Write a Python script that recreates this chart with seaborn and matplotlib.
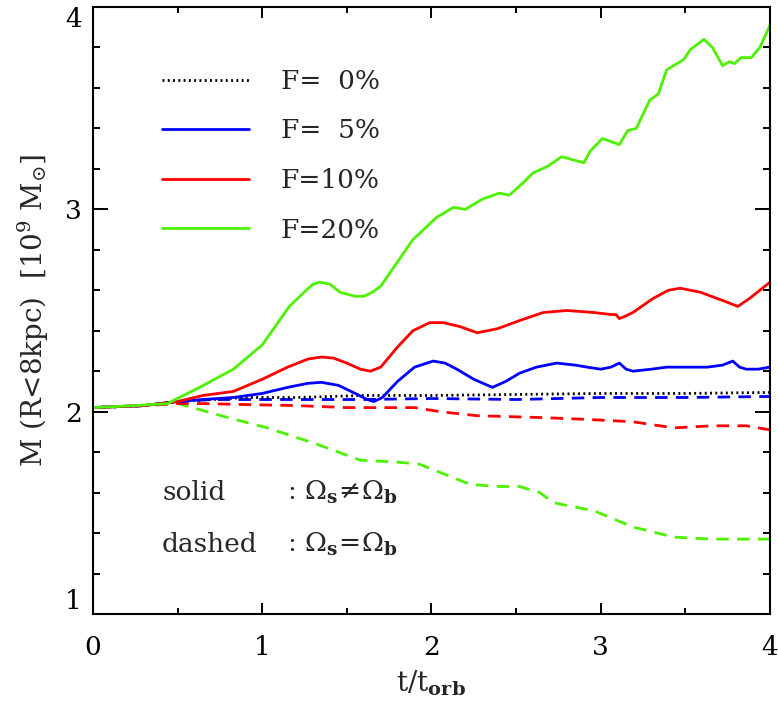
import matplotlib
matplotlib.use("Agg")
import matplotlib.pyplot as plt
import seaborn as sns
import numpy as np
import pandas as pd
from matplotlib.ticker import MultipleLocator, FixedLocator

# ---- data ----
t_f0 = [0, 0.3, 0.5, 0.7, 0.9, 1.2, 1.6, 2.0, 2.5, 3.0, 3.5, 4.0]
m_f0 = [2.02, 2.03, 2.05, 2.06, 2.07, 2.07, 2.08, 2.08, 2.085, 2.09, 2.09, 2.095]

t_f5 = [0, 0.3, 0.5, 0.65, 0.83, 1.0, 1.15, 1.27, 1.35, 1.45, 1.55, 1.62, 1.66, 1.71, 1.8,
        1.9, 2.01, 2.08, 2.15, 2.25, 2.36, 2.44, 2.52, 2.62, 2.74, 2.85, 2.92, 3.0,
        3.06, 3.11, 3.15, 3.19, 3.3, 3.39, 3.5, 3.63, 3.72, 3.78, 3.82, 3.86, 3.93, 4.0]
m_f5 = [2.02, 2.03, 2.05, 2.06, 2.07, 2.09, 2.12, 2.14, 2.145, 2.13, 2.09, 2.06, 2.05, 2.07, 2.15,
        2.22, 2.25, 2.24, 2.21, 2.16, 2.12, 2.15, 2.19, 2.22, 2.24, 2.23, 2.22, 2.21,
        2.22, 2.24, 2.21, 2.20, 2.21, 2.22, 2.22, 2.22, 2.23, 2.25, 2.22, 2.21, 2.21, 2.22]

t_f10 = [0, 0.3, 0.5, 0.65, 0.83, 1.0, 1.15, 1.27, 1.35, 1.42, 1.5, 1.58, 1.64, 1.7, 1.8,
         1.89, 1.99, 2.07, 2.17, 2.27, 2.39, 2.52, 2.66, 2.8, 2.96, 3.06, 3.09, 3.11,
         3.14, 3.19, 3.31, 3.4, 3.47, 3.59, 3.75, 3.81, 3.88, 4.0]
m_f10 = [2.02, 2.03, 2.05, 2.08, 2.10, 2.16, 2.22, 2.26, 2.27, 2.265, 2.24, 2.21, 2.20, 2.22, 2.32,
         2.40, 2.44, 2.44, 2.42, 2.39, 2.41, 2.45, 2.49, 2.50, 2.49, 2.48, 2.48, 2.46,
         2.47, 2.49, 2.56, 2.60, 2.61, 2.59, 2.54, 2.52, 2.56, 2.64]

t_f20 = [0, 0.25, 0.44, 0.63, 0.83, 1.0, 1.16, 1.26, 1.30, 1.34, 1.40, 1.46, 1.55, 1.6,
         1.65, 1.7, 1.89, 2.03,
         2.13, 2.2, 2.3, 2.4, 2.46, 2.54, 2.6, 2.68, 2.77, 2.9, 2.94, 3.01, 3.11, 3.16,
         3.21, 3.29, 3.34, 3.39, 3.49, 3.53, 3.61, 3.66, 3.72, 3.76, 3.79, 3.83, 3.89,
         3.94, 4.0]
m_f20 = [2.02, 2.03, 2.04, 2.12, 2.21, 2.33, 2.52, 2.60, 2.63, 2.64, 2.63, 2.59, 2.57, 2.57,
         2.59, 2.62, 2.85, 2.96,
         3.01, 3.00, 3.05, 3.08, 3.07, 3.13, 3.18, 3.21, 3.26, 3.23, 3.29, 3.35, 3.32, 3.39,
         3.40, 3.54, 3.57, 3.69, 3.74, 3.79, 3.84, 3.80, 3.71, 3.73, 3.72, 3.75, 3.75,
         3.80, 3.91]

t_f5d = [0, 0.3, 0.5, 0.7, 0.9, 1.2, 1.6, 2.0, 2.5, 3.0, 3.5, 4.0]
m_f5d = [2.02, 2.03, 2.05, 2.06, 2.06, 2.06, 2.06, 2.065, 2.06, 2.07, 2.07, 2.075]

t_f10d = [0, 0.3, 0.5, 0.65, 0.9, 1.2, 1.5, 1.81, 1.9, 2.05, 2.27, 2.68, 2.96, 3.19,
          3.43, 3.66, 3.86, 4.0]
m_f10d = [2.02, 2.03, 2.04, 2.04, 2.035, 2.03, 2.02, 2.02, 2.02, 2.00, 1.98, 1.97, 1.96, 1.95,
          1.92, 1.93, 1.93, 1.91]

t_f20d = [0, 0.3, 0.5, 0.63, 0.8, 1.03, 1.32, 1.58, 1.81, 1.93, 2.05, 2.23, 2.4, 2.52,
          2.64, 2.72, 2.96, 3.19, 3.43, 3.66, 4.0]
m_f20d = [2.02, 2.03, 2.04, 2.01, 1.97, 1.92, 1.84, 1.76, 1.75, 1.74, 1.70, 1.64, 1.63, 1.63,
          1.60, 1.55, 1.51, 1.43, 1.38, 1.37, 1.37]

legend_labels = ["F=  0%", "F=  5%", "F=10%", "F=20%"]
y_ticks = [1, 2, 3, 4]
x_ticks = [0, 1, 2, 3, 4]

# ---- style ----
sns.set_style("ticks")
plt.rcParams["font.family"] = ["DejaVu Serif"]
plt.rcParams["mathtext.fontset"] = "dejavuserif"

BLUE = "#0000ff"
RED = "#ff0000"
GREEN = "#4cf200"
LW = 2.0
FS = 19

fig = plt.figure(figsize=(7.78, 7.08), dpi=100)
ax = fig.add_axes([0.1195, 0.1328, 0.8702, 0.8573])

dash = (0, (4.5, 3))

# dashed (co-rotating) runs
sns.lineplot(x=t_f20d, y=m_f20d, ax=ax, color=GREEN, lw=LW)
sns.lineplot(x=t_f10d, y=m_f10d, ax=ax, color=RED, lw=LW)
sns.lineplot(x=t_f5d, y=m_f5d, ax=ax, color=BLUE, lw=LW)
for ln in ax.get_lines():
    ln.set_linestyle(dash)

# dotted reference and solid runs
sns.lineplot(x=t_f0, y=m_f0, ax=ax, color="black", lw=LW)
h0 = ax.get_lines()[-1]
h0.set_linestyle((0, (0.7, 1.2)))
sns.lineplot(x=t_f5, y=m_f5, ax=ax, color=BLUE, lw=LW)
h5 = ax.get_lines()[-1]
sns.lineplot(x=t_f10, y=m_f10, ax=ax, color=RED, lw=LW)
h10 = ax.get_lines()[-1]
sns.lineplot(x=t_f20, y=m_f20, ax=ax, color=GREEN, lw=LW)
h20 = ax.get_lines()[-1]

ax.set_xlim(0, 4)
ax.set_ylim(1, 4)
ax.xaxis.set_major_locator(FixedLocator(x_ticks))
ax.xaxis.set_minor_locator(MultipleLocator(0.5))
ax.yaxis.set_major_locator(FixedLocator(y_ticks))
ax.yaxis.set_minor_locator(MultipleLocator(0.2))
ax.set_yticklabels([str(v) for v in y_ticks])
ax.set_xticklabels([str(v) for v in x_ticks])
ax.tick_params(which="both", direction="in", top=True, right=True,
               width=1.4, labelsize=FS, colors="black")
ax.tick_params(axis="x", which="major", length=8, pad=15)
ax.tick_params(axis="x", which="minor", length=4)
ax.tick_params(axis="y", which="major", length=11, pad=8)
ax.tick_params(axis="y", which="minor", length=5)
yt = ax.yaxis.get_major_ticks()
yt[0].label1.set_verticalalignment("bottom")
yt[-1].label1.set_verticalalignment("top")
for s in ax.spines.values():
    s.set_linewidth(1.5)
    s.set_color("black")

ax.set_xlabel(r"t/t$_{\mathbf{orb}}$", fontsize=20, labelpad=6)
ax.set_ylabel(r"M (R<8kpc)  [10$^9$ M$_{\odot}$]", fontsize=20, labelpad=10)

leg = ax.legend([h0, h5, h10, h20], legend_labels, loc="upper left",
                bbox_to_anchor=(0.102, 0.898), frameon=False, fontsize=FS,
                handlelength=3.3, handletextpad=1.2, labelspacing=0.93,
                borderpad=0, borderaxespad=0)

ax.text(0.102, 0.200, "solid", transform=ax.transAxes, fontsize=FS, va="center")
ax.text(0.287, 0.200, r": $\Omega_{\mathbf{s}}\!\neq\!\Omega_{\mathbf{b}}$", transform=ax.transAxes,
        fontsize=FS, va="center")
ax.text(0.102, 0.114, "dashed", transform=ax.transAxes, fontsize=FS, va="center")
ax.text(0.287, 0.114, r": $\Omega_{\mathbf{s}}\!=\!\Omega_{\mathbf{b}}$", transform=ax.transAxes,
        fontsize=FS, va="center")

fig.savefig("out.png", dpi=100)
